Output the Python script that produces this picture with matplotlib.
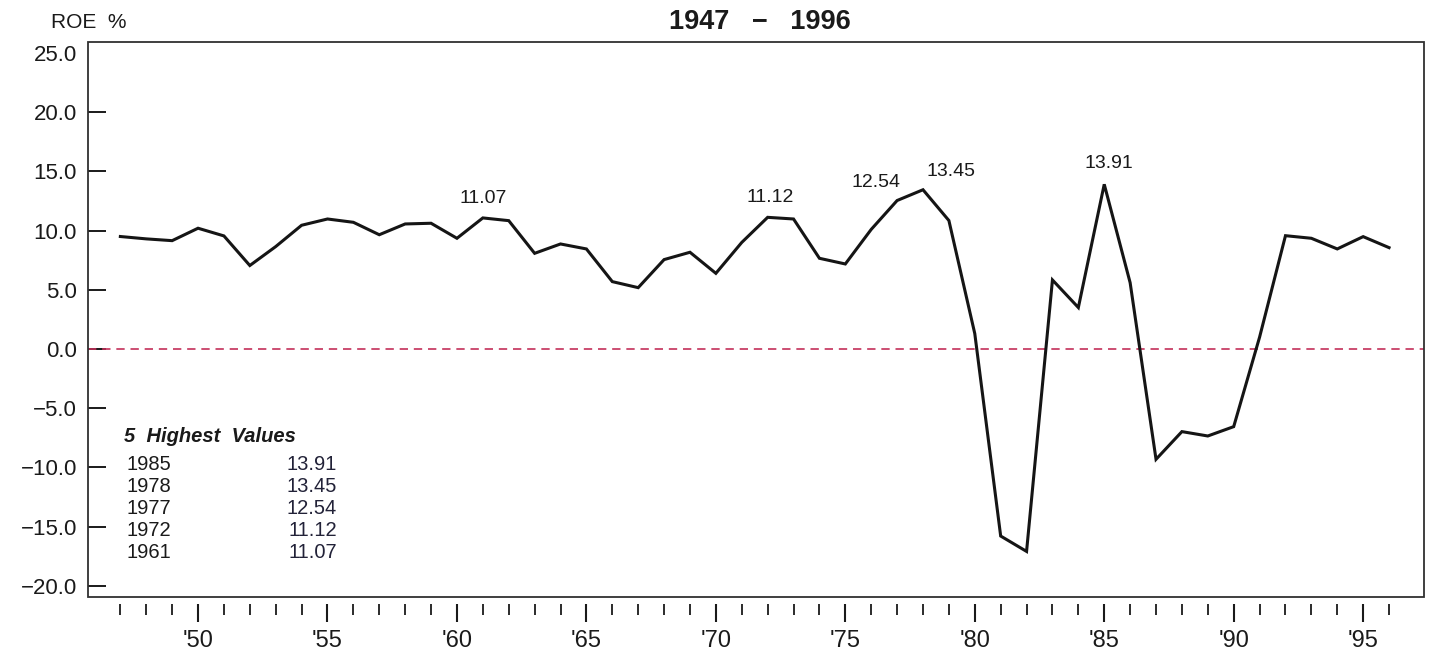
import numpy as np
import matplotlib
matplotlib.use("Agg")
import matplotlib.pyplot as plt
from matplotlib.patches import Rectangle

plt.rcParams["font.family"] = ["Liberation Sans", "DejaVu Sans"]

# ROE % per year
years = list(range(1947, 1997))
roe = [9.5, 9.3, 9.15, 10.2, 9.55, 7.05, 8.65, 10.45, 10.98, 10.7,
       9.65, 10.56, 10.62, 9.35, 11.07, 10.84, 8.08, 8.87, 8.45, 5.69,
       5.18, 7.55, 8.17, 6.39, 9.0, 11.12, 10.98, 7.66, 7.18, 10.1,
       12.54, 13.45, 10.85, 1.3, -15.8, -17.1, 5.83, 3.5, 13.91, 5.6,
       -9.32, -6.98, -7.35, -6.56, 1.0, 9.57, 9.35, 8.45, 9.49, 8.56]
y_ticks = [-20, -15, -10, -5, 0, 5, 10, 15, 20, 25]
x_major = [1950, 1955, 1960, 1965, 1970, 1975, 1980, 1985, 1990, 1995]
x_labels = ["'50", "'55", "'60", "'65", "'70", "'75", "'80", "'85", "'90", "'95"]

# label offsets (points) for the peak annotations
label_offsets = {1985: (3, 9), 1978: (20, 7), 1977: (-15, 7),
                 1972: (2, 8), 1961: (0, 8)}

W, H = 1433, 661
fig = plt.figure(figsize=(W / 100, H / 100), dpi=100)
ax = fig.add_axes([88 / W, (H - 597) / H, (1424 - 88) / W, (597 - 42) / H])

ax.plot(years, roe, color="#151515", lw=2.2, solid_joinstyle="miter", zorder=3)
ax.axhline(0, color="#c4305a", lw=1.2, dashes=(5, 3.5), zorder=2)

ax.set_xlim(1945.75, 1997.35)
ax.set_ylim(-20.95, 25.93)

# frame drawn separately so x ticks can hang below it
for s in ax.spines.values():
    s.set_visible(False)
ax.spines["bottom"].set_position(("outward", 5))
ax.add_patch(Rectangle((0, 0), 1, 1, transform=ax.transAxes, fill=False,
                       lw=1.3, ec="#303030", clip_on=False, zorder=4))

ax.set_yticks(y_ticks)
ax.set_yticklabels([f"{v:.1f}".replace("-", "\u2212") for v in y_ticks])
ax.tick_params(axis="y", direction="in", length=13, width=1.4, pad=8,
               labelsize=16, colors="#1a1a1a")
ax.yaxis.get_major_ticks()[-1].tick1line.set_visible(False)

ax.set_xticks(x_major)
ax.set_xticklabels(x_labels)
ax.set_xticks(years, minor=True)
ax.tick_params(axis="x", which="major", direction="out", length=13, width=1.5,
               pad=6, labelsize=17, colors="#1a1a1a")
ax.tick_params(axis="x", which="minor", direction="out", length=8, width=1.3,
               colors="#1a1a1a")

# five highest values
order = np.argsort(roe)[::-1][:5]
for i in order:
    dx, dy = label_offsets.get(years[i], (0, 8))
    ax.annotate(f"{roe[i]:.2f}", (years[i], roe[i]), xytext=(dx, dy),
                textcoords="offset points", ha="center", va="bottom",
                fontsize=14, color="#1a1a1a")

fig.text(124 / W, 1 - 437 / H, "5  Highest  Values", fontsize=14.5,
         fontweight="bold", fontstyle="italic", va="center", color="#1a1a1a")
for k, i in enumerate(order):
    yy = 1 - (465 + k * 22) / H
    fig.text(127 / W, yy, str(years[i]), fontsize=14.5, va="center", color="#1a1a1a")
    fig.text(337 / W, yy, f"{roe[i]:.2f}", fontsize=14.5, va="center", ha="right",
             color="#222238")

fig.text(51 / W, 1 - 22 / H, "ROE  %", fontsize=15, va="center", color="#1a1a1a")
fig.text(760 / W, 1 - 22 / H, "1947   \u2212   1996", fontsize=19.5,
         fontweight="bold", ha="center", va="center", color="#1a1a1a")

fig.savefig("out.png", dpi=100)
